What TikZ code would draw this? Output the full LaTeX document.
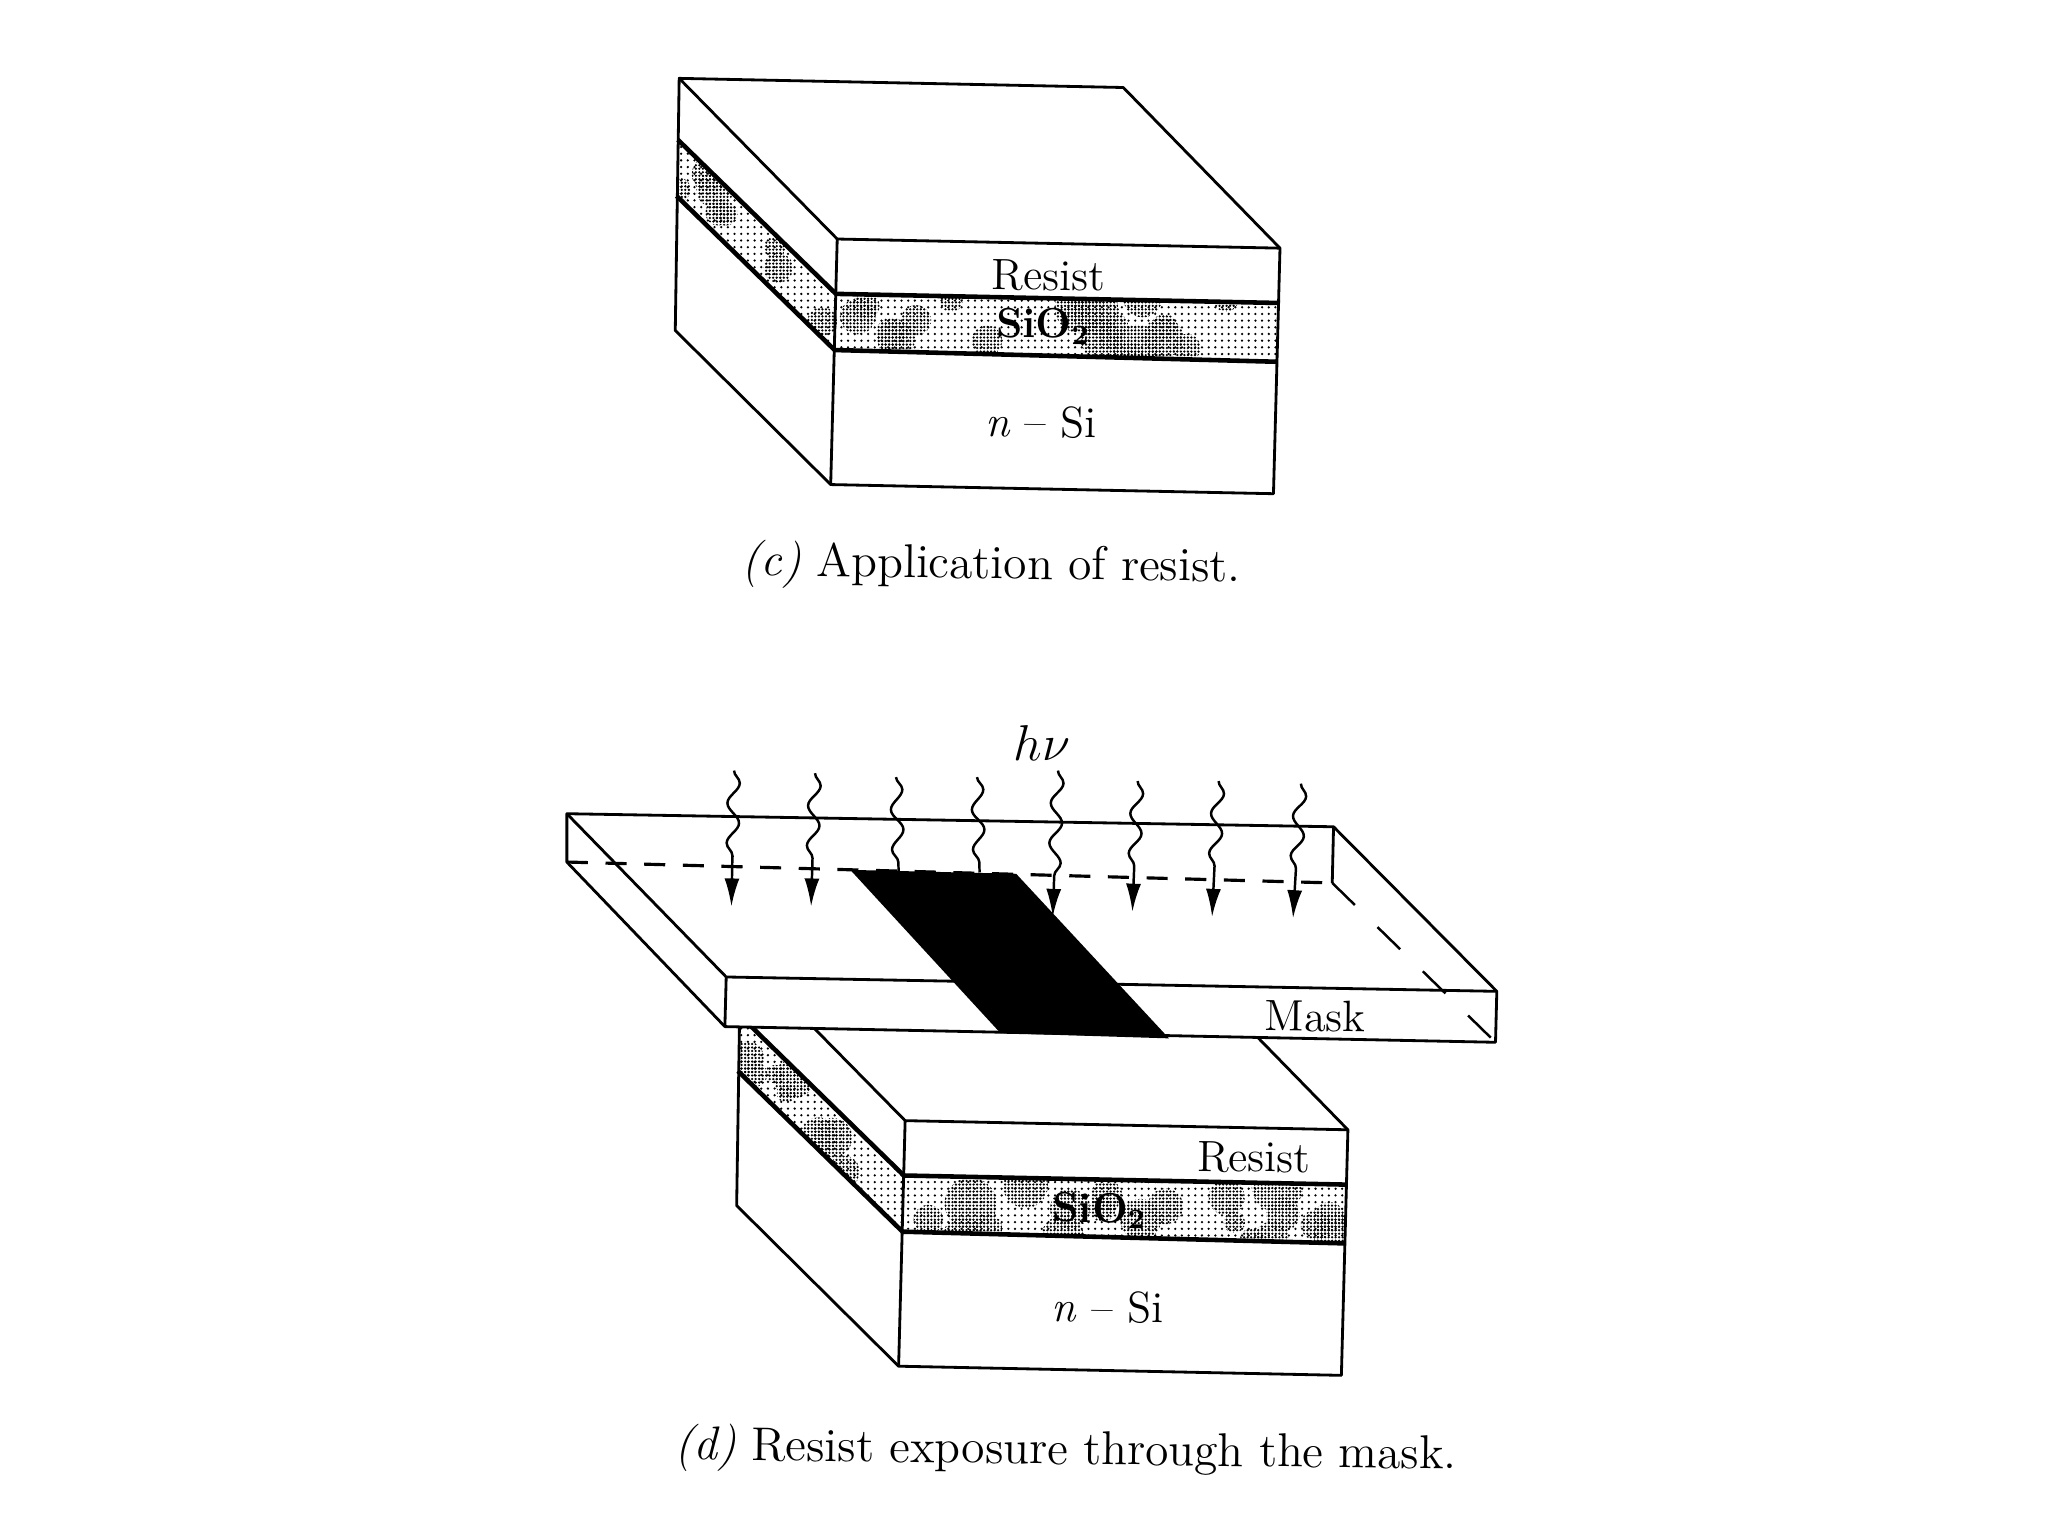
\documentclass[tikz,border=0pt]{standalone}
\usetikzlibrary{arrows.meta, decorations.pathmorphing, patterns.meta}
\tikzset{
  wafer/.style={draw, line width=0.8pt, fill=white, line join=round},
  oxideline/.style={line width=1.3pt},
  blob/.style={pattern={Dots[distance=1pt, radius=0.36pt]}},
  blocklabel/.style={font=\fontsize{12.5}{14}\selectfont, inner sep=0pt, rotate=-0.7},
  oxidelabel/.style={font=\fontsize{12}{14}\selectfont\bfseries, inner sep=0pt, rotate=-0.7},
  caption/.style={font=\fontsize{13.5}{16}\selectfont, inner sep=0pt, rotate=-0.7},
  wavearrow/.style={line width=0.7pt, -{Latex[length=2.8mm, width=1.5mm]}, decorate,
                    decoration={snake, amplitude=0.06cm, segment length=0.4cm, post length=0.4cm}},
  wavestub/.style={line width=0.7pt, decorate,
                   decoration={snake, amplitude=0.06cm, segment length=0.4cm}},
}

% one wafer stack: name, seed, front shift, back shift
\newcommand{\waferstack}[6]{
  \coordinate (#1tbl) at (520+#5,60+#6);
  \coordinate (#1tbr) at (860+#5,67+#6);
  \coordinate (#1tfr) at (980+#3,190+#4);
  \coordinate (#1tfl) at (641+#3,183+#4);
  \coordinate (#1rbl) at (519+#5,107+#6);
  \coordinate (#1rfl) at (640+#3,225+#4);
  \coordinate (#1rfr) at (980+#3,232+#4);
  \coordinate (#1obl) at (518+#5,150+#6);
  \coordinate (#1ofl) at (639+#3,268+#4);
  \coordinate (#1ofr) at (978+#3,277+#4);
  \coordinate (#1bbl) at (517+#5,253+#6);
  \coordinate (#1bfl) at (636+#3,371+#4);
  \coordinate (#1bfr) at (975+#3,378+#4);

  \draw[wafer] (#1tbl) -- (#1tbr) -- (#1tfr) -- (#1bfr) -- (#1bfl) -- (#1bbl) -- cycle;

  % mottled oxide
  \begin{scope}
    \clip (#1rbl) -- (#1rfl) -- (#1rfr) -- (#1ofr) -- (#1ofl) -- (#1obl) -- cycle;
    \fill[pattern={Dots[distance=1.9pt, radius=0.36pt]}] (500+#3,90+#4) rectangle (1000+#3,290+#4);
    \pgfmathsetseed{#2}
    \foreach \i in {1,...,20} {
      \pgfmathsetmacro{\bx}{640+#3+rnd*340}
      \pgfmathsetmacro{\by}{226+#4+rnd*50}
      \pgfmathsetmacro{\br}{8+rnd*12}
      \fill[blob] (\bx,\by) circle ({\br} and {\br});
    }
    \foreach \i in {1,...,8} {
      \pgfmathsetmacro{\bt}{rnd}
      \pgfmathsetmacro{\bx}{519+#5+\bt*121}
      \pgfmathsetmacro{\by}{107+#6+\bt*118+rnd*45}
      \pgfmathsetmacro{\br}{7+rnd*9}
      \fill[blob] (\bx,\by) circle ({\br} and {\br});
    }
  \end{scope}

  \draw[wafer, fill=none] (#1tfl) -- (#1tfr);
  \draw[wafer, fill=none] (#1tbl) -- (#1tfl) -- (#1bfl);
  \draw[wafer, fill=none, oxideline] (#1rbl) -- (#1rfl) -- (#1rfr);
  \draw[wafer, fill=none, oxideline] (#1obl) -- (#1ofl) -- (#1ofr);
}

\begin{document}
\begin{tikzpicture}[x=0.01306cm, y=-0.01306cm]
  \useasboundingbox (0,0) rectangle (1568,1176);

  % (c)
  \waferstack{c}{11}{0}{0}{0}{0}
  \node[blocklabel] (cresist) at (803,211) {Resist};
  \node[oxidelabel] (coxide) at (799,250) {SiO$_{\mathbf{2}}$};
  \node[blocklabel] (csi) at (797,323) {\textit{n} -- Si};
  \node[caption] (ccap) at (759,434) {\textit{(c)} Application of resist.};

  % (d)
  \waferstack{d}{29}{52}{675}{47}{670}
  \node[blocklabel] (dresist) at (960,886) {Resist};
  \node[oxidelabel] (doxide) at (842,927) {SiO$_{\mathbf{2}}$};
  \node[blocklabel] (dsi) at (848,1001) {\textit{n} -- Si};
  \node[caption] (dcap) at (816,1112) {\textit{(d)} Resist exposure through the mask.};

  % mask
  \coordinate (mtbl) at (434,623);
  \coordinate (mtbr) at (1021,633);
  \coordinate (mtfr) at (1146,759);
  \coordinate (mtfl) at (556,748);
  \coordinate (mbbl) at (434,660);
  \coordinate (mbbr) at (1020,676);
  \coordinate (mbfl) at (555,786);
  \coordinate (mbfr) at (1145,798);
  \draw[wafer] (mtbl) -- (mtbr) -- (mtfr) -- (mbfr) -- (mbfl) -- (mbbl) -- cycle;
  \draw[wafer, fill=none] (mtbl) -- (mtfl) -- (mtfr);
  \draw[wafer, fill=none] (mtfl) -- (mbfl);
  \draw[wafer, fill=none] (mtbr) -- (mbbr);
  \draw[line width=0.9pt, dash pattern=on 6pt off 5pt] (mbbl) -- (mbbr);
  \draw[line width=0.7pt, dash pattern=on 9pt off 9pt] (mbbr) -- (mbfr);
  \fill (651,666) -- (778,669) -- (895,795) -- (766,791) -- cycle;
  \node[blocklabel] (mask) at (1007,778) {Mask};

  % light
  \node[blocklabel, font=\fontsize{14}{16}\selectfont] (light) at (798,569) {$h\nu$};
  \foreach \i/\xa/\ya/\xb/\yb in {1/562/590/560/694, 2/624/592/621/694, 5/810/590/806/702,
                                  6/871/598/867/698, 7/933/598/928/702, 8/996/600/990/703} {
    \coordinate (src\i) at (\xa,\ya);
    \coordinate (dst\i) at (\xb,\yb);
    \draw[wavearrow] (src\i) -- (dst\i);
  }
  \foreach \i/\xa/\ya/\xb/\yb in {3/686/595/688/667, 4/748/595/750/668} {
    \coordinate (src\i) at (\xa,\ya);
    \coordinate (dst\i) at (\xb,\yb);
    \draw[wavestub] (src\i) -- (dst\i);
  }
\end{tikzpicture}
\end{document}
